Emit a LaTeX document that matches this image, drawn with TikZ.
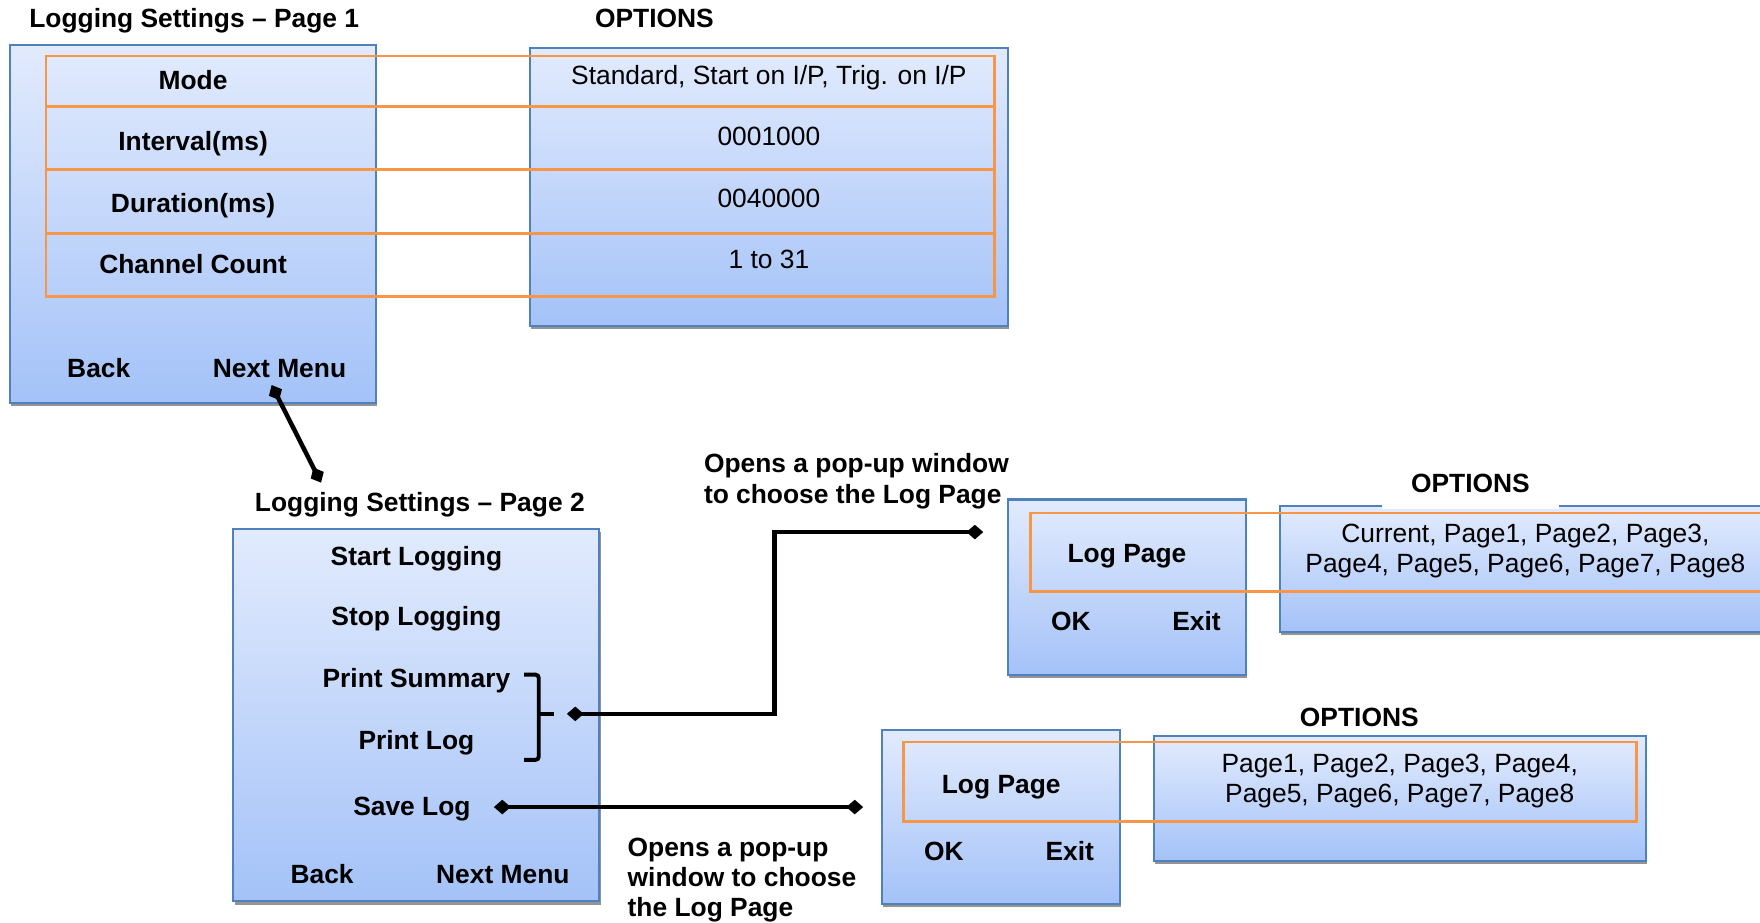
\documentclass[tikz,border=0pt]{standalone}
\usepackage{fontspec}
\setmainfont{Liberation Sans}
\usetikzlibrary{arrows.meta,shadows}
\definecolor{bordblue}{RGB}{79,129,189}
\definecolor{topblue}{RGB}{226,235,253}
\definecolor{botblue}{RGB}{164,194,248}
\definecolor{orng}{RGB}{247,150,70}
\begin{document}
\begin{tikzpicture}[x=1pt,y=-1pt,
  panel/.style={draw=bordblue, line width=1.8pt, top color=topblue, bottom color=botblue,
    inner sep=0pt, drop shadow={shadow xshift=1pt, shadow yshift=-3pt, fill=black!42, opacity=1}},
  obox/.style={draw=orng, line width=2.3pt},
  lbl/.style={font=\fontsize{23.5}{27}\selectfont\bfseries, inner sep=0pt, anchor=base},
  val/.style={font=\fontsize{23.5}{27}\selectfont, inner sep=0pt, anchor=base},
  mval/.style={font=\fontsize{23.5}{27}\selectfont, inner sep=0pt, align=center, anchor=center},
  note/.style={font=\fontsize{23.5}{27}\selectfont\bfseries, inner sep=0pt, align=left, anchor=north west},
  dtip/.tip={Diamond[length=15pt,width=13pt]},
  conn/.style={line width=4pt, dtip-dtip},
  brk/.style={line width=3.5pt, rounded corners=3pt}]
\useasboundingbox (0,0) rectangle (1568,822);

% panels
\node[panel, minimum width=326pt, minimum height=319pt] (p1) at (172,199.5) {};
\node[panel, minimum width=426pt, minimum height=247pt] (o1) at (685,166.5) {};
\node[panel, minimum width=326pt, minimum height=332pt] (p2) at (371,637) {};
\node[panel, minimum width=212pt, minimum height=156pt] (pp1) at (1004,523) {};
\node[panel, minimum width=460pt, minimum height=112pt] (o2) at (1370,507) {};
\node[panel, minimum width=212pt, minimum height=155pt] (pp2) at (892,727.5) {};
\node[panel, minimum width=438pt, minimum height=111pt] (o3) at (1247,711.5) {};

% orange selection rows
\draw[obox] (41,50) rectangle (886,95);
\draw[obox] (41,95) rectangle (886,151);
\draw[obox] (41,151) rectangle (886,208);
\draw[obox] (41,208) rectangle (886,264);
\draw[obox] (918,457) rectangle (1600,527);
\draw[obox] (805,661) rectangle (1458,732);

% page 1
\node[lbl] (t1) at (173,24.5) {Logging Settings – Page 1};
\node[lbl] (opt1) at (583,24.5) {OPTIONS};
\node[lbl] (mode) at (172,79.5) {Mode};
\node[lbl] (intv) at (172,134.5) {Interval(ms)};
\node[lbl] (dur) at (172,189.5) {Duration(ms)};
\node[lbl] (chc) at (172,243.5) {Channel Count};
\node[lbl] (bk1) at (88,336.5) {Back};
\node[lbl] (nm1) at (249,336.5) {Next Menu};
\node[val] (v1) at (685,75.5) {Standard, Start on I/P, Trig. on I/P};
\node[val] (v2) at (685,129.5) {0001000};
\node[val] (v3) at (685,184.5) {0040000};
\node[val] (v4) at (685,239.5) {1 to 31};

% page 2
\node[lbl] (t2) at (374,455.5) {Logging Settings – Page 2};
\node[lbl] (sl) at (371,503.5) {Start Logging};
\node[lbl] (stl) at (371,557.5) {Stop Logging};
\node[lbl] (ps) at (371,612.5) {Print Summary};
\node[lbl] (pl) at (371,667.5) {Print Log};
\node[lbl] (sv) at (367,726.5) {Save Log};
\node[lbl] (bk2) at (287,787.5) {Back};
\node[lbl] (nm2) at (448,787.5) {Next Menu};

% popup 1
\node[note] (n1) at (627,404) {Opens a pop-up window\\to choose the Log Page};
\node[lbl] (lp1) at (1004,501.5) {Log Page};
\node[lbl] (ok1) at (954,561.5) {OK};
\node[lbl] (ex1) at (1066,561.5) {Exit};
\node[lbl, fill=white, inner xsep=26pt, inner ysep=14.5pt] (opt2) at (1310,438.5) {OPTIONS};
\node[mval] (v5) at (1359,491) {Current, Page1, Page2, Page3,\\Page4, Page5, Page6, Page7, Page8};

% popup 2
\node[note] (n2) at (559,746) {Opens a pop-up\\window to choose\\the Log Page};
\node[lbl] (lp2) at (892,706.5) {Log Page};
\node[lbl] (ok2) at (841,766.5) {OK};
\node[lbl] (ex2) at (953,766.5) {Exit};
\node[lbl] (opt3) at (1211,647.5) {OPTIONS};
\node[mval] (v6) at (1247,696) {Page1, Page2, Page3, Page4,\\Page5, Page6, Page7, Page8};

% bracket
\coordinate (bt) at (467,601);
\coordinate (bb) at (467,677);
\coordinate (bm) at (494,636);
\draw[brk] (bt) -- (480,601) -- (480,677) -- (bb);
\draw[line width=3.5pt] (480,636) -- (bm);

% connectors
\coordinate (c1a) at (242,343);
\coordinate (c1b) at (286,430);
\draw[conn] (c1a) -- (c1b);
\coordinate (c2a) at (505,636);
\coordinate (c2b) at (876,474);
\draw[conn] (c2a) -- (690,636) |- (c2b);
\coordinate (c3a) at (440,719);
\coordinate (c3b) at (769,719);
\draw[conn] (c3a) -- (c3b);
\end{tikzpicture}
\end{document}
